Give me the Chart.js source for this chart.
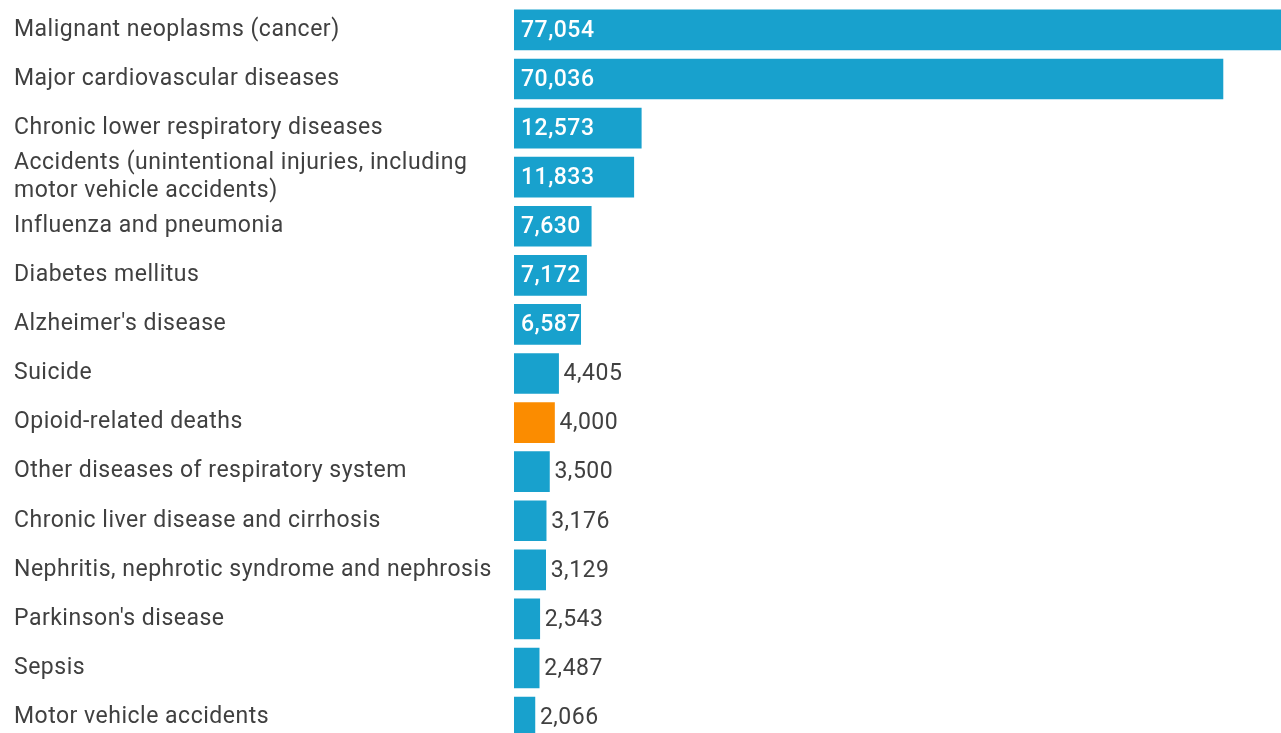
<!DOCTYPE html>
<html>
<head>
<meta charset="utf-8">
<script src="https://cdn.jsdelivr.net/npm/chart.js@4.4.1/dist/chart.umd.min.js"></script>
<style>
    html, body { margin: 0; padding: 0; background: #fff; overflow: hidden; }
    /* the axis keeps some room above and below the labels; pull it up so the first bar sits near the top */
    .wrap { position: relative; width: 1281px; height: 765px; margin-top: -9px; }
</style>
</head>
<body>
<div class="wrap"><canvas id="chart"></canvas></div>
<script>
// Causes of death, counts
const causes = [
    'Malignant neoplasms (cancer)',
    'Major cardiovascular diseases',
    'Chronic lower respiratory diseases',
    ['Accidents (unintentional injuries, including', 'motor vehicle accidents)'],
    'Influenza and pneumonia',
    'Diabetes mellitus',
    "Alzheimer's disease",
    'Suicide',
    'Opioid-related deaths',
    'Other diseases of respiratory system',
    'Chronic liver disease and cirrhosis',
    'Nephritis, nephrotic syndrome and nephrosis',
    "Parkinson's disease",
    'Sepsis',
    'Motor vehicle accidents',
];
const deaths = [77054, 70036, 12573, 11833, 7630, 7172, 6587, 4405, 4000, 3500, 3176, 3129, 2543, 2487, 2066];
const highlighted = ['Opioid-related deaths'];

const BLUE = '#18a1cd';
const ORANGE = '#fb8c00';
const TEXT = '#404040';

const barColors = causes.map((c) => (highlighted.includes(c) ? ORANGE : BLUE));
const fmt = (v) => v.toLocaleString('en-US');

// The source font renders a touch wider than Roboto here, so widen the spacing a bit.
const letterSpacing = {
    id: 'letterSpacing',
    beforeDraw(chart) {
        chart.ctx.letterSpacing = '0.5px';
    },
};

// Value labels: inside the bar in white when it fits, otherwise just past the end.
const valueLabels = {
    id: 'valueLabels',
    afterDatasetsDraw(chart) {
        const { ctx } = chart;
        const meta = chart.getDatasetMeta(0);
        ctx.save();
        ctx.textBaseline = 'middle';
        ctx.textAlign = 'left';
        meta.data.forEach((bar, i) => {
            const text = fmt(deaths[i]);
            const width = bar.x - bar.base;
            ctx.font = '500 23px Roboto';
            if (ctx.measureText(text).width + 4 < width) {
                ctx.fillStyle = '#ffffff';
                ctx.fillText(text, bar.base + 7, bar.y + 1);
            } else {
                ctx.font = '400 23px Roboto';
                ctx.fillStyle = TEXT;
                ctx.fillText(text, bar.x + 5, bar.y + 1);
            }
        });
        ctx.restore();
    },
};

new Chart(document.getElementById('chart'), {
    type: 'bar',
    data: {
        labels: causes,
        datasets: [{
            data: deaths,
            backgroundColor: barColors,
            borderWidth: 0,
            barThickness: 40,
        }],
    },
    options: {
        indexAxis: 'y',
        responsive: true,
        maintainAspectRatio: false,
        animation: false,
        layout: { padding: { left: 14, top: 0, right: 0, bottom: 0 } },
        plugins: { legend: { display: false }, tooltip: { enabled: false } },
        scales: {
            x: {
                display: false,
                min: 0,
                max: 75770,
            },
            y: {
                border: { display: false },
                grid: { display: false, drawTicks: false },
                ticks: {
                    autoSkip: false,
                    crossAlign: 'far',
                    color: TEXT,
                    font: { family: 'Roboto', size: 23, lineHeight: 1.25 },
                    padding: 0,
                },
                afterFit(scale) { scale.width = 500; },
            },
        },
    },
    plugins: [letterSpacing, valueLabels],
});
</script>
</body>
</html>
